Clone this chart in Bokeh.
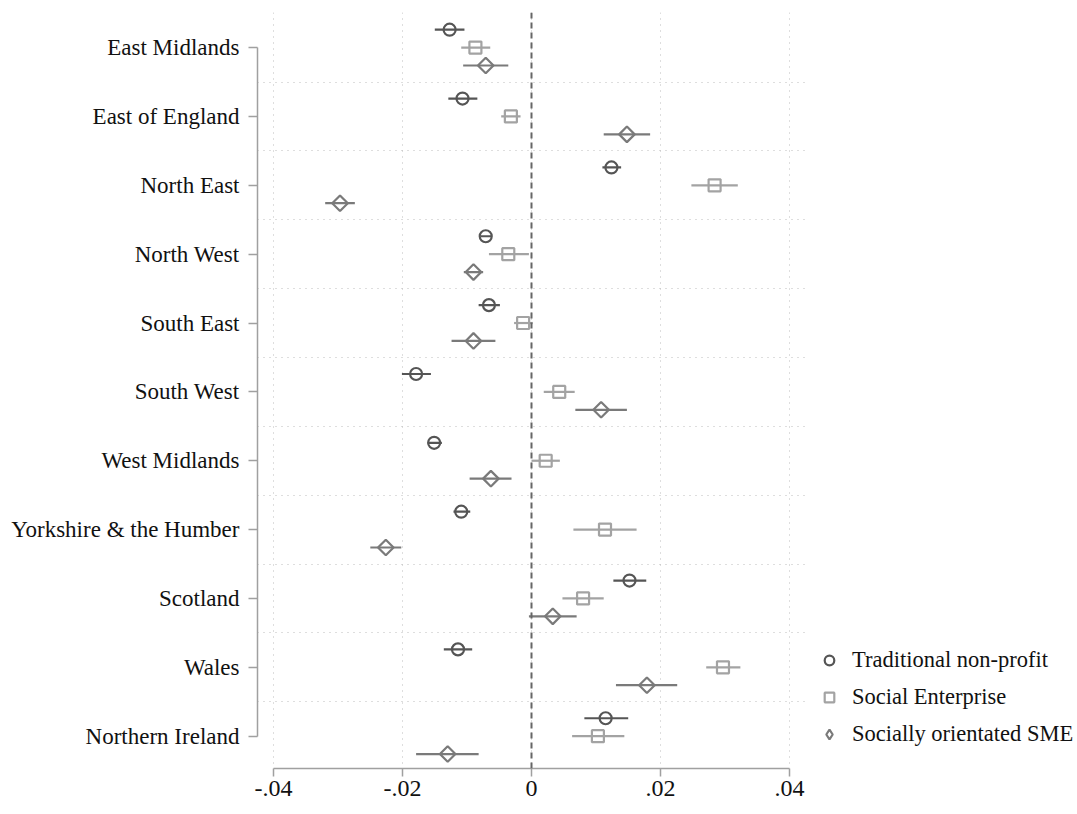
import math
from bokeh.plotting import figure
from bokeh.models import Range1d, FixedTicker, Legend, LegendItem, Span, ColumnDataSource
from bokeh.embed import file_html
from bokeh.resources import INLINE

regions = ["East Midlands", "East of England", "North East", "North West", "South East",
           "South West", "West Midlands", "Yorkshire & the Humber", "Scotland", "Wales",
           "Northern Ireland"]

trad    = [-0.0127, -0.0107, 0.0124, -0.0071, -0.0066, -0.0179, -0.0151, -0.0109, 0.0152, -0.0114, 0.0115]
trad_lo = [-0.0150, -0.0129, 0.0110, -0.0079, -0.0082, -0.0201, -0.0161, -0.0121, 0.0127, -0.0136, 0.0082]
trad_hi = [-0.0104, -0.0084, 0.0139, -0.0062, -0.0049, -0.0156, -0.0139, -0.0095, 0.0178, -0.0092, 0.0150]

se    = [-0.0087, -0.0032, 0.0284, -0.0036, -0.0013, 0.0043, 0.0022, 0.0114, 0.0080, 0.0297, 0.0103]
se_lo = [-0.0109, -0.0047, 0.0248, -0.0066, -0.0027, 0.0019, 0.0000, 0.0065, 0.0048, 0.0271, 0.0063]
se_hi = [-0.0064, -0.0017, 0.0320, -0.0004, 0.0002, 0.0067, 0.0044, 0.0163, 0.0112, 0.0324, 0.0144]

sme    = [-0.0071, 0.0148, -0.0297, -0.0090, -0.0090, 0.0108, -0.0063, -0.0226, 0.0033, 0.0179, -0.0130]
sme_lo = [-0.0106, 0.0112, -0.0320, -0.0105, -0.0124, 0.0068, -0.0096, -0.0250, -0.0004, 0.0131, -0.0179]
sme_hi = [-0.0036, 0.0184, -0.0274, -0.0075, -0.0056, 0.0148, -0.0031, -0.0202, 0.0070, 0.0226, -0.0082]

x_ticks = [-0.04, -0.02, 0.0, 0.02, 0.04]
x_tick_labels = ["-.04", "-.02", "0", ".02", ".04"]

series_names = ["Traditional non-profit", "Social Enterprise", "Socially orientated SME"]

FONT = "Liberation Serif"

p = figure(frame_width=548, frame_height=756, width=1075, height=806,
           x_range=Range1d(-0.0425, 0.0425), y_range=Range1d(10.47, -0.51),
           output_backend="svg", toolbar_location=None,
           min_border_left=257, min_border_top=12, min_border_bottom=38, min_border_right=10)
p.outline_line_color = None
p.background_fill_color = "white"
p.border_fill_color = "white"

# grids
p.xgrid.ticker = FixedTicker(ticks=x_ticks)
p.xgrid.grid_line_color = "#bdbdbd"
p.xgrid.grid_line_dash = "1 5"
p.xgrid.grid_line_width = 1
p.ygrid.ticker = FixedTicker(ticks=[i + 0.5 for i in range(len(regions) - 1)])
p.ygrid.grid_line_color = "#bdbdbd"
p.ygrid.grid_line_dash = "1 5"
p.ygrid.grid_line_width = 1

# axes
p.xaxis.ticker = FixedTicker(ticks=x_ticks)
p.xaxis.major_label_overrides = {t: l for t, l in zip(x_ticks, x_tick_labels)}
p.xaxis.bounds = (-0.04, 0.04)
p.yaxis.ticker = FixedTicker(ticks=list(range(len(regions))))
p.yaxis.major_label_overrides = {i: r for i, r in enumerate(regions)}
p.yaxis.bounds = (0, len(regions) - 1)
for ax in (p.xaxis[0], p.yaxis[0]):
    ax.axis_line_color = "#a0a0a0"
    ax.axis_line_width = 1.5
    ax.major_tick_line_color = "#a0a0a0"
    ax.major_tick_line_width = 1.5
    ax.major_tick_in = 0
    ax.minor_tick_line_color = None
    ax.major_label_text_font = FONT
    ax.major_label_text_color = "#111111"
p.yaxis.major_label_text_font_size = "23px"
p.xaxis.major_label_text_font_size = "24px"
p.xaxis.major_tick_out = 8
p.yaxis.major_tick_out = 9
p.xaxis.major_label_standoff = 4
p.yaxis.major_label_standoff = 9

p.add_layout(Span(location=0, dimension="height", line_color="#666666",
                  line_dash="6 4", line_width=2))

specs = [
    (trad, trad_lo, trad_hi, -0.26, "circle", 12, 0.0, "#555555", "circle", 12),
    (se, se_lo, se_hi, 0.0, "square", 12, 0.0, "#a3a3a3", "square", 12),
    (sme, sme_lo, sme_hi, 0.26, "square", 11, math.pi / 4, "#7a7a7a", "diamond", 17),
]
items = []
for (vals, lo, hi, off, marker, size, ang, color, leg_marker, leg_size), name in zip(specs, series_names):
    ys = [i + off for i in range(len(regions))]
    src = ColumnDataSource(dict(x=vals, lo=lo, hi=hi, y=ys))
    p.segment(x0="lo", x1="hi", y0="y", y1="y", source=src, line_color=color, line_width=2.2)
    p.scatter(x="x", y="y", source=src, marker=marker, size=size, angle=ang,
              fill_alpha=0, line_color=color, line_width=2.2)
    # legend-only glyph (a single off-screen NaN point) so the key shows the proper symbol
    leg = p.scatter(x=[float("nan")], y=[float("nan")], marker=leg_marker, size=leg_size,
                    fill_alpha=0, line_color=color, line_width=2.2)
    items.append(LegendItem(label=name, renderers=[leg]))

legend = Legend(items=items, location=(12, 21), orientation="vertical",
                label_text_font=FONT, label_text_font_size="22.5px", label_text_color="#111111",
                glyph_width=24, glyph_height=24, label_standoff=11, spacing=11,
                padding=0, margin=12, border_line_color=None, background_fill_alpha=0)
p.add_layout(legend, "right")

open("out.html", "w").write(file_html(p, INLINE))
